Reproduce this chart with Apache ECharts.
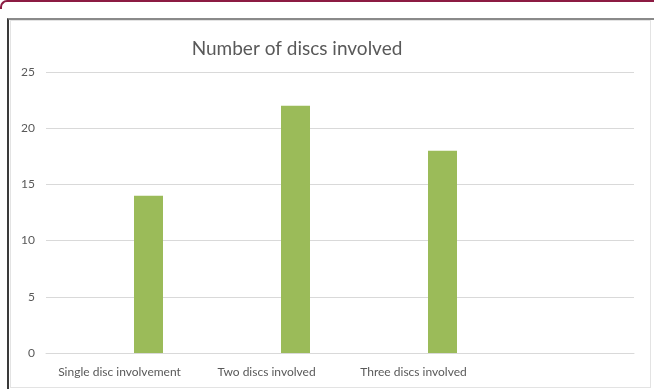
<!DOCTYPE html>
<html>
<head>
<meta charset="utf-8">
<script src="https://cdn.jsdelivr.net/npm/echarts@6/dist/echarts.min.js"></script>
<style>
  html, body { margin: 0; padding: 0; background: #fff; }
  #wrap { position: relative; width: 654px; height: 391px; overflow: hidden; }
  #chart { position: absolute; left: 0; top: 0; width: 654px; height: 391px; }
  .topline { position: absolute; left: 0; top: 0; width: 660px; height: 9px;
             border-top: 2px solid #8c1b43; border-left: 2px solid #8c1b43;
             border-top-left-radius: 7px; box-sizing: border-box; }
  .frame { position: absolute; left: 7px; top: 18px; width: 660px; height: 371px;
           border-top: 2px solid #8a8a8a; border-left: 2px solid #3a3a3a; box-sizing: border-box; }
  .inner { position: absolute; left: 10px; top: 20px; width: 641px; height: 368px;
           border: 1px solid #e3e3e3; box-sizing: border-box; }
</style>
</head>
<body>
<div id="wrap">
  <div id="chart"></div>
  <div class="topline"></div>
  <div class="inner"></div>
  <div class="frame"></div>
</div>
<script>
  // Number of patients by how many discs were involved
  const categories = ['Single disc involvement', 'Two discs involved', 'Three discs involved', ''];
  const discCounts = [14, 22, 18, null];
  const blankSeries = [null, null, null, null];
  const yTicks = { min: 0, max: 25, interval: 5 };

  const chart = echarts.init(document.getElementById('chart'), null, { renderer: 'canvas' });
  const labelFont = "Lato, 'Liberation Sans', Arial, sans-serif";

  const barBase = { type: 'bar', barWidth: 29, barGap: '0%', silent: true };

  chart.setOption({
    animation: false,
    title: {
      text: 'Number of discs involved',
      left: 292,
      top: 34,
      textAlign: 'center',
      textStyle: { fontFamily: labelFont, fontSize: 19, fontWeight: 'normal', color: '#595959' }
    },
    grid: { left: 46, right: 20, top: 72, bottom: 38, containLabel: false },
    xAxis: {
      type: 'category',
      data: categories,
      axisLine: { lineStyle: { color: '#d9d9d9', width: 1 } },
      axisTick: { show: false },
      axisLabel: { color: '#595959', fontFamily: labelFont, fontSize: 12, margin: 13, interval: 0 }
    },
    yAxis: {
      type: 'value',
      min: yTicks.min,
      max: yTicks.max,
      interval: yTicks.interval,
      axisLine: { show: false },
      axisTick: { show: false },
      splitLine: { lineStyle: { color: '#d9d9d9', width: 1 } },
      axisLabel: { color: '#595959', fontFamily: labelFont, fontSize: 12, margin: 11 }
    },
    series: [
      Object.assign({}, barBase, { name: 'Series1', data: blankSeries }),
      Object.assign({}, barBase, { name: 'Series2', data: blankSeries }),
      Object.assign({}, barBase, { name: 'Number of discs involved', data: discCounts,
        itemStyle: { color: '#9bbb59' } })
    ]
  });
</script>
</body>
</html>
